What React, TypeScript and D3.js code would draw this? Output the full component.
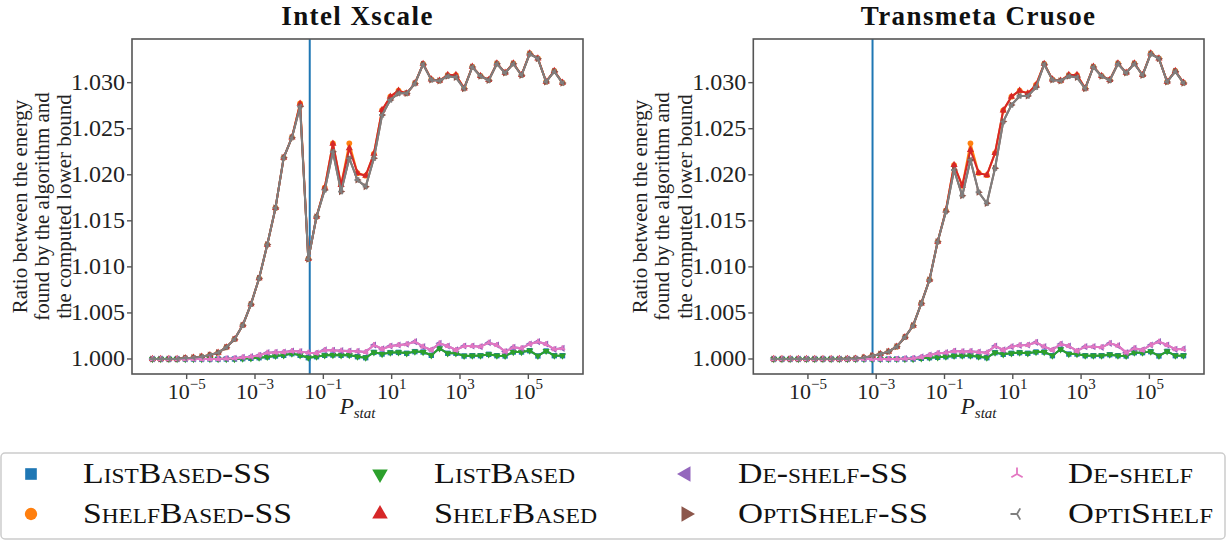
import React from "react";
import * as d3 from "d3";

// ---------- DATA ----------
const EXPONENTS = [-6, -5.76, -5.52, -5.28, -5.04, -4.8, -4.56, -4.32, -4.08, -3.84, -3.6, -3.36, -3.12, -2.88, -2.64, -2.4, -2.16, -1.92, -1.68, -1.44, -1.2, -0.96, -0.72, -0.48, -0.24, 0, 0.24, 0.48, 0.72, 0.96, 1.2, 1.44, 1.68, 1.92, 2.16, 2.4, 2.64, 2.88, 3.12, 3.36, 3.6, 3.84, 4.08, 4.32, 4.56, 4.8, 5.04, 5.28, 5.52, 5.76, 6];
const P_STAT = EXPONENTS.map((e) => Math.pow(10, e));

const PANEL_TITLES = ["Intel Xscale", "Transmeta Crusoe"];
const THRESHOLDS = [0.04, 0.00078];
const Y_TICKS = [1.0, 1.005, 1.01, 1.015, 1.02, 1.025, 1.03];
const X_TICK_EXPONENTS = [-5, -3, -1, 1, 3, 5];
const Y_LABEL_LINES = ["Ratio between the energy", "found by the algorithm and", "the computed lower bound"];
const X_LABEL = "P";
const X_LABEL_SUB = "stat";

const SERIES_NAMES = ["ListBased-SS", "ShelfBased-SS", "ListBased", "ShelfBased", "De-shelf-SS", "OptiShelf-SS", "De-shelf", "OptiShelf"];

// Intel Xscale
const xsShelfBased = [1.0, 1.0, 1.0, 1.0, 1.0001, 1.00014, 1.00025, 1.00043, 1.00069, 1.00127, 1.00214, 1.00366, 1.00594, 1.00876, 1.01242, 1.0164, 1.02186, 1.02405, 1.02772, 1.01086, 1.01544, 1.0186, 1.02338, 1.01889, 1.02288, 1.02017, 1.0199, 1.02228, 1.02703, 1.02848, 1.02913, 1.02884, 1.02993, 1.03205, 1.03036, 1.03022, 1.03083, 1.03083, 1.02938, 1.03174, 1.03073, 1.03029, 1.0321, 1.03109, 1.0321, 1.03083, 1.03318, 1.03264, 1.03011, 1.03127, 1.03];
const xsShelfBasedSS = [1.0, 1.0, 1.0, 1.0, 1.0001, 1.00014, 1.00025, 1.00043, 1.00069, 1.00127, 1.00214, 1.00366, 1.00594, 1.00876, 1.01242, 1.0164, 1.02186, 1.02405, 1.02776, 1.01086, 1.01544, 1.0186, 1.02342, 1.01889, 1.02342, 1.02017, 1.0199, 1.02228, 1.02703, 1.02848, 1.02913, 1.02884, 1.02993, 1.03205, 1.03036, 1.03022, 1.03083, 1.03083, 1.02938, 1.03174, 1.03073, 1.03029, 1.0321, 1.03109, 1.0321, 1.03083, 1.03318, 1.03264, 1.03011, 1.03127, 1.03];
const xsOptiShelf = [1.0, 1.0, 1.0, 1.0, 1.0001, 1.00014, 1.00025, 1.00043, 1.00069, 1.00127, 1.00214, 1.00366, 1.00594, 1.00876, 1.01242, 1.0164, 1.02186, 1.02403, 1.0274, 1.01083, 1.01544, 1.01835, 1.0225, 1.01817, 1.02179, 1.01943, 1.01871, 1.02179, 1.02649, 1.02812, 1.02884, 1.02884, 1.0299, 1.032, 1.0303, 1.0302, 1.0307, 1.03058, 1.02935, 1.0317, 1.0307, 1.03025, 1.03205, 1.03105, 1.03205, 1.0308, 1.03312, 1.0326, 1.03008, 1.03122, 1.02995];
const xsOptiShelfSS = xsOptiShelf.slice();
const xsListBased = [1.0, 1.0, 1.0, 1.0, 1.0, 1.0, 1.0, 1.0, 1.0, 1.0, 1.0, 1.00004, 1.00007, 1.00014, 1.00022, 1.00033, 1.0004, 1.00058, 1.0004, 1.00014, 1.00025, 1.0004, 1.00043, 1.0004, 1.00043, 1.00025, 1.00014, 1.00072, 1.00054, 1.00069, 1.00072, 1.00062, 1.0008, 1.00076, 1.0004, 1.00116, 1.00062, 1.00062, 1.00033, 1.00036, 1.00036, 1.00051, 1.00036, 1.00033, 1.00076, 1.00076, 1.0009, 1.00033, 1.00087, 1.00036, 1.00036];
const xsListBasedSS = xsListBased.slice();
const xsDeShelf = [1.0, 1.0, 1.0, 1.0, 1.0, 1.0, 1.0, 1.0, 1.0, 1.00004, 1.00007, 1.00018, 1.00025, 1.0004, 1.00069, 1.00072, 1.00076, 1.00087, 1.0008, 1.00069, 1.00065, 1.00098, 1.00094, 1.0009, 1.00087, 1.00083, 1.00076, 1.00152, 1.00109, 1.00141, 1.00152, 1.0016, 1.00188, 1.00134, 1.00098, 1.0017, 1.00141, 1.00098, 1.00141, 1.00141, 1.00134, 1.00177, 1.00152, 1.0008, 1.00127, 1.00116, 1.00163, 1.00188, 1.00163, 1.00105, 1.00116];
const xsDeShelfSS = xsDeShelf.slice();

// Transmeta Crusoe
const tcShelfBased = [1.0, 1.0, 1.0, 1.0, 1.0, 1.0, 1.0, 1.0, 1.0, 1.00002, 1.00004, 1.00014, 1.00033, 1.00054, 1.0008, 1.00134, 1.00236, 1.00362, 1.00604, 1.00862, 1.01274, 1.01612, 1.02106, 1.0188, 1.02269, 1.0202, 1.01996, 1.02236, 1.02699, 1.02848, 1.02913, 1.02884, 1.02975, 1.03205, 1.03036, 1.03022, 1.03083, 1.03083, 1.02938, 1.03174, 1.03073, 1.03029, 1.0321, 1.03109, 1.0321, 1.03083, 1.03318, 1.03264, 1.03011, 1.03127, 1.03];
const tcShelfBasedSS = [1.0, 1.0, 1.0, 1.0, 1.0, 1.0, 1.0, 1.0, 1.0, 1.00002, 1.00004, 1.00014, 1.00033, 1.00054, 1.0008, 1.00134, 1.00236, 1.00362, 1.00604, 1.00862, 1.01274, 1.01612, 1.02106, 1.0188, 1.02342, 1.0202, 1.01996, 1.02236, 1.02699, 1.02848, 1.02913, 1.02884, 1.02975, 1.03205, 1.03036, 1.03022, 1.03083, 1.03083, 1.02938, 1.03174, 1.03073, 1.03029, 1.0321, 1.03109, 1.0321, 1.03083, 1.03318, 1.03264, 1.03011, 1.03127, 1.03];
const tcOptiShelf = [1.0, 1.0, 1.0, 1.0, 1.0, 1.0, 1.0, 1.0, 1.0, 1.00002, 1.00004, 1.00014, 1.00033, 1.00054, 1.0008, 1.00134, 1.00236, 1.00362, 1.00604, 1.00858, 1.01274, 1.016, 1.02052, 1.01773, 1.02161, 1.0181, 1.0169, 1.02071, 1.02577, 1.02758, 1.02855, 1.02855, 1.0295, 1.032, 1.0303, 1.0302, 1.0307, 1.03058, 1.02935, 1.0317, 1.0307, 1.03025, 1.03205, 1.03105, 1.03205, 1.0308, 1.03312, 1.0326, 1.03008, 1.03122, 1.02995];
const tcOptiShelfSS = tcOptiShelf.slice();
const tcListBased = [1.0, 1.0, 1.0, 1.0, 1.0, 1.0, 1.0, 1.0, 1.0, 1.0, 1.0, 1.0, 1.0, 1.0, 1.0, 1.0, 1.0, 1.0, 1.00007, 1.00014, 1.00018, 1.00025, 1.00033, 1.00036, 1.00036, 1.00025, 1.00014, 1.00069, 1.00051, 1.00062, 1.00069, 1.00062, 1.00076, 1.00076, 1.00036, 1.00105, 1.00054, 1.00054, 1.00036, 1.00036, 1.00036, 1.00047, 1.00036, 1.00033, 1.00069, 1.00069, 1.0008, 1.00033, 1.00083, 1.00036, 1.00036];
const tcListBasedSS = tcListBased.slice();
const tcDeShelf = [1.0, 1.0, 1.0, 1.0, 1.0, 1.0, 1.0, 1.0, 1.0, 1.0, 1.0, 1.0, 1.0, 1.0, 1.0, 1.0, 1.00004, 1.00007, 1.00022, 1.00043, 1.00062, 1.00069, 1.00087, 1.0008, 1.00083, 1.00076, 1.00069, 1.00141, 1.00098, 1.00134, 1.00148, 1.00152, 1.00181, 1.00134, 1.00098, 1.00163, 1.00141, 1.00087, 1.00134, 1.00134, 1.00127, 1.0017, 1.00145, 1.00069, 1.00116, 1.00098, 1.00152, 1.00188, 1.00152, 1.00105, 1.00109];
const tcDeShelfSS = tcDeShelf.slice();

// order = SERIES_NAMES order
const PANEL_SERIES = [
  [xsListBasedSS, xsShelfBasedSS, xsListBased, xsShelfBased, xsDeShelfSS, xsOptiShelfSS, xsDeShelf, xsOptiShelf],
  [tcListBasedSS, tcShelfBasedSS, tcListBased, tcShelfBased, tcDeShelfSS, tcOptiShelfSS, tcDeShelf, tcOptiShelf],
];

// ---------- STYLE ----------
const COLORS = ["#1f77b4", "#ff7f0e", "#2ca02c", "#d62728", "#9467bd", "#8c564b", "#e377c2", "#7f7f7f"];
const MARKERS = ["square", "circle", "tridown", "triup", "trileft", "triright", "tri_up", "tri_left"];
const FONT = "'Liberation Serif', 'Times New Roman', serif";

const W = 1227;
const H = 541;
const PANELS = [
  { left: 132, right: 583, ylabX: [20, 42, 64] },
  { left: 753.3, right: 1204, ylabX: [640, 662, 685] },
];
const TOP = 39;
const BOTTOM = 374;
const Y_DOMAIN = [0.99837, 1.03474];
const X_DOMAIN = [Math.pow(10, -6.6), Math.pow(10, 6.6)];

function Marker({ kind, x, y, color, s }: { kind: string; x: number; y: number; color: string; s: number }) {
  const r = s / 2;
  if (kind === "square") {
    return <path d={d3.symbol(d3.symbolSquare, s * s * 0.8)()!} transform={`translate(${x},${y})`} fill={color} />;
  }
  if (kind === "circle") {
    return <circle cx={x} cy={y} r={r * 0.95} fill={color} />;
  }
  const tri = d3.symbol(d3.symbolTriangle, s * s * 0.62)()!;
  if (kind === "tridown") return <path d={tri} transform={`translate(${x},${y}) rotate(180)`} fill={color} />;
  if (kind === "triup") return <path d={tri} transform={`translate(${x},${y})`} fill={color} />;
  if (kind === "trileft") return <path d={tri} transform={`translate(${x},${y}) rotate(-90)`} fill={color} />;
  if (kind === "triright") return <path d={tri} transform={`translate(${x},${y}) rotate(90)`} fill={color} />;
  if (kind === "tri_up") {
    const d = `M0,0L0,${-r}M0,0L${-0.866 * r},${0.5 * r}M0,0L${0.866 * r},${0.5 * r}`;
    return <path d={d} transform={`translate(${x},${y})`} stroke={color} strokeWidth={1.8} fill="none" />;
  }
  // tri_left
  const d = `M0,0L${-r},0M0,0L${0.5 * r},${-0.866 * r}M0,0L${0.5 * r},${0.866 * r}`;
  return <path d={d} transform={`translate(${x},${y})`} stroke={color} strokeWidth={1.8} fill="none" />;
}

function Panel({ idx }: { idx: number }) {
  const p = PANELS[idx];
  const x = d3.scaleLog().domain(X_DOMAIN).range([p.left, p.right]);
  const y = d3.scaleLinear().domain(Y_DOMAIN).range([BOTTOM, TOP]);
  const line = d3
    .line<number>()
    .x((_, i) => x(P_STAT[i]))
    .y((v) => y(v));
  const cx = (p.left + p.right) / 2;
  const cy = (TOP + BOTTOM) / 2;
  const series = PANEL_SERIES[idx];
  return (
    <g>
      <text x={cx} y={25} textAnchor="middle" fontFamily={FONT} fontWeight="bold" fontSize={27} letterSpacing={1.4} fill="#111">
        {PANEL_TITLES[idx]}
      </text>
      <line x1={x(THRESHOLDS[idx])} x2={x(THRESHOLDS[idx])} y1={TOP} y2={BOTTOM} stroke="#1f77b4" strokeWidth={2} />
      {series.map((vals, si) => (
        <g key={si}>
          <path d={line(vals)!} fill="none" stroke={COLORS[si]} strokeWidth={2} strokeLinejoin="round" />
          {vals.map((v, i) => (
            <Marker key={i} kind={MARKERS[si]} x={x(P_STAT[i])} y={y(v)} color={COLORS[si]} s={6} />
          ))}
        </g>
      ))}
      <rect x={p.left} y={TOP} width={p.right - p.left} height={BOTTOM - TOP} fill="none" stroke="#555" strokeWidth={1.6} />
      {Y_TICKS.map((t) => (
        <g key={t}>
          <line x1={p.left - 5} x2={p.left} y1={y(t)} y2={y(t)} stroke="#555" strokeWidth={1.4} />
          <text x={p.left - 7} y={y(t) + 7.5} textAnchor="end" fontFamily={FONT} fontSize={24} fill="#222">
            {t.toFixed(3)}
          </text>
        </g>
      ))}
      {X_TICK_EXPONENTS.map((e) => (
        <g key={e}>
          <line x1={x(Math.pow(10, e))} x2={x(Math.pow(10, e))} y1={BOTTOM} y2={BOTTOM + 5} stroke="#555" strokeWidth={1.4} />
          <text x={x(Math.pow(10, e))} y={399} textAnchor="middle" fontFamily={FONT} fontSize={22} fill="#222">
            <tspan>10</tspan>
            <tspan dy={-10} fontSize={15}>
              {e < 0 ? `\u2212${-e}` : `${e}`}
            </tspan>
          </text>
        </g>
      ))}
      <text x={cx} y={414} textAnchor="middle" fontFamily={FONT} fontSize={23} fontStyle="italic" fill="#222">
        <tspan>{X_LABEL}</tspan>
        <tspan dy={4} fontSize={15}>
          {X_LABEL_SUB}
        </tspan>
      </text>
      {Y_LABEL_LINES.map((l, i) => (
        <text
          key={i}
          transform={`translate(${p.ylabX[i] + 7},${cy}) rotate(-90)`}
          textAnchor="middle"
          fontFamily={FONT}
          fontSize={21}
          fill="#222"
        >
          {l}
        </text>
      ))}
    </g>
  );
}

const LEGEND_COLS_MARKER_X = [31, 380, 686, 1017];
const LEGEND_COLS_TEXT_X = [83, 434, 738, 1068];
const LEGEND_ROWS_Y = [474, 514];
const LEGEND_TEXT_W = [188, 209, 141, 163, 170, 190, 125, 145];

function Legend() {
  return (
    <g>
      <rect x={1} y={453} width={1224} height={86} rx={4} fill="#fff" stroke="#ccc" strokeWidth={1.5} />
      {SERIES_NAMES.map((name, i) => {
        const col = Math.floor(i / 2);
        const row = i % 2;
        const my = LEGEND_ROWS_Y[row];
        return (
          <g key={name}>
            <Marker kind={MARKERS[i]} x={LEGEND_COLS_MARKER_X[col]} y={my} color={COLORS[i]} s={13} />
            <text
              x={LEGEND_COLS_TEXT_X[col]}
              y={my + 9}
              fontFamily={FONT}
              fontSize={29}
              style={{ fontVariant: "small-caps" }}
              textLength={LEGEND_TEXT_W[i]}
              lengthAdjust="spacingAndGlyphs"
              fill="#111"
            >
              {name}
            </text>
          </g>
        );
      })}
    </g>
  );
}

export default function App() {
  return (
    <svg width={W} height={H} style={{ position: "absolute", left: 0, top: 0, background: "#fff" }}>
      <rect width={W} height={H} fill="#fff" />
      <Panel idx={0} />
      <Panel idx={1} />
      <Legend />
    </svg>
  );
}
